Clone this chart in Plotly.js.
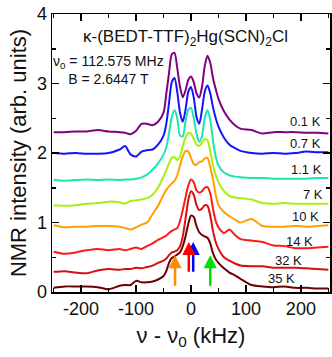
<!DOCTYPE html>
<html>
<head>
<meta charset="utf-8">
<script src="https://cdn.plot.ly/plotly-3.0.1.min.js"></script>
<style>
  html, body { margin: 0; padding: 0; background: #fff; }
  #plot { width: 332px; height: 357px; }
</style>
</head>
<body>
<div id="plot"></div>
<script>
// frequency offset (kHz), shared by all spectra
const freq = [-250, -230, -210, -190, -170, -150, -130, -120, -110, -100, -90, -80, -70, -60, -50,
    -45, -40, -35, -30, -25, -20, -15, -10, -5, 0, 5, 10, 15, 20, 25, 30, 35, 40, 45, 50,
    60, 70, 80, 90, 110, 130, 150, 170, 190, 210, 230, 250];

// spectra, already offset vertically as in the figure
const spec01K = [2.30, 2.30, 2.31, 2.31, 2.33, 2.31, 2.30, 2.29, 2.27, 2.32, 2.42, 2.42, 2.40, 2.45, 2.58,
    2.85, 3.15, 3.42, 3.44, 3.22, 2.95, 2.80, 2.90, 3.05, 3.10, 3.02, 2.86, 2.80, 2.95, 3.25, 3.40, 3.30, 3.08, 2.92, 2.78,
    2.60, 2.48, 2.40, 2.35, 2.33, 2.28, 2.30, 2.30, 2.30, 2.29, 2.29, 2.28];
const spec07K = [2.00, 1.99, 2.00, 1.99, 1.99, 2.00, 2.05, 2.10, 1.98, 1.95, 2.02, 2.04, 2.05, 2.12, 2.25,
    2.42, 2.72, 3.02, 3.08, 2.88, 2.58, 2.45, 2.62, 2.88, 2.95, 2.80, 2.52, 2.42, 2.62, 2.88, 2.97, 2.86, 2.66, 2.50, 2.38,
    2.22, 2.12, 2.07, 2.03, 2.00, 1.99, 2.00, 1.99, 2.00, 2.02, 2.01, 2.01];
const spec11K = [1.61, 1.60, 1.61, 1.62, 1.61, 1.62, 1.61, 1.62, 1.62, 1.63, 1.65, 1.69, 1.76, 1.85, 1.98,
    2.08, 2.28, 2.52, 2.62, 2.50, 2.25, 2.24, 2.45, 2.62, 2.65, 2.50, 2.28, 2.16, 2.24, 2.50, 2.62, 2.48, 2.18, 1.95, 1.82,
    1.72, 1.68, 1.66, 1.65, 1.64, 1.64, 1.63, 1.63, 1.63, 1.63, 1.64, 1.64];
const spec7K = [1.25, 1.24, 1.25, 1.27, 1.28, 1.30, 1.29, 1.27, 1.31, 1.32, 1.33, 1.35, 1.40, 1.50, 1.66,
    1.75, 1.85, 1.93, 1.94, 1.90, 1.95, 2.10, 2.22, 2.29, 2.28, 2.20, 2.12, 2.10, 2.15, 2.20, 2.18, 2.02, 1.82, 1.68, 1.58,
    1.45, 1.38, 1.36, 1.35, 1.33, 1.28, 1.27, 1.28, 1.27, 1.27, 1.27, 1.27];
const spec10K = [0.96, 0.93, 0.94, 0.94, 0.95, 0.95, 0.94, 0.92, 0.90, 0.93, 0.97, 1.00, 1.12, 1.24, 1.40,
    1.47, 1.52, 1.56, 1.60, 1.68, 1.82, 1.95, 2.03, 2.02, 1.93, 1.84, 1.83, 1.87, 1.88, 1.92, 1.93, 1.80, 1.62, 1.40, 1.25,
    1.15, 1.09, 1.04, 1.00, 1.05, 0.95, 0.94, 0.94, 0.95, 0.94, 0.95, 0.96];
const spec14K = [0.58, 0.55, 0.57, 0.60, 0.62, 0.60, 0.62, 0.60, 0.62, 0.64, 0.62, 0.66, 0.70, 0.75, 0.79,
    0.81, 0.85, 0.88, 0.90, 0.92, 1.02, 1.18, 1.36, 1.53, 1.62, 1.58, 1.46, 1.43, 1.45, 1.50, 1.51, 1.42, 1.20, 1.02, 0.93,
    0.85, 0.90, 0.82, 0.76, 0.74, 0.72, 0.67, 0.66, 0.63, 0.63, 0.64, 0.65];
const spec32K = [0.29, 0.30, 0.28, 0.27, 0.31, 0.33, 0.32, 0.33, 0.33, 0.35, 0.34, 0.36, 0.38, 0.42, 0.45,
    0.48, 0.53, 0.57, 0.58, 0.60, 0.66, 0.80, 1.05, 1.32, 1.45, 1.40, 1.25, 1.18, 1.20, 1.25, 1.24, 1.10, 0.88, 0.72, 0.62,
    0.50, 0.45, 0.41, 0.38, 0.37, 0.37, 0.35, 0.35, 0.35, 0.34, 0.33, 0.32];
const spec35K = [0.06, 0.08, 0.08, 0.08, 0.07, 0.04, 0.09, 0.10, 0.10, 0.16, 0.14, 0.14, 0.15, 0.18, 0.23,
    0.30, 0.42, 0.49, 0.51, 0.54, 0.57, 0.66, 0.80, 0.98, 1.10, 1.08, 0.95, 0.86, 0.82, 0.80, 0.78, 0.70, 0.56, 0.47, 0.42,
    0.34, 0.28, 0.24, 0.19, 0.10, 0.08, 0.07, 0.08, 0.06, 0.06, 0.05, 0.05];

const tempLabels = ['0.1 K', '0.7 K', '1.1 K', '7 K', '10 K', '14 K', '32 K', '35 K'];
const labelX = [209, 209, 211, 222, 209, 198, 177, 164];
const labelY = [2.45, 2.13, 1.76, 1.41, 1.08, 0.72, 0.46, 0.20];

// tick labels (plain hyphen like the original)
const xTickVals = [-200, -100, 0, 100, 200];
const xTickText = ['-200', '-100', '0', '100', '200'];
const yTickVals = [0, 1, 2, 3, 4];
const yTickText = ['0', '1', '2', '3', '4'];

// peak markers (arrows)
const arrowX = [-29, 4, -4, 35];
const arrowTip = [0.53, 0.72, 0.72, 0.53];
const arrowTail = [0.07, 0.27, 0.27, 0.07];
const arrowColors = ['#ff8c00', '#0000ff', '#ff0000', '#00e000'];

const spectra = [spec01K, spec07K, spec11K, spec7K, spec10K, spec14K, spec32K, spec35K];
const lineColors = ['#800080', '#1414ff', '#1de6b0', '#aaee11', '#ffa000', '#ff1a1a', '#d41010', '#6e0000'];

const FONT = 'Liberation Sans, Arial, sans-serif';

const traces = spectra.map((ys, i) => ({
    x: freq,
    y: ys,
    type: 'scatter',
    mode: 'lines',
    name: tempLabels[i],
    line: { color: lineColors[i], width: 2, shape: 'spline', smoothing: 0.7 },
    hoverinfo: 'skip'
}));

const annotations = [];
tempLabels.forEach((t, i) => {
    annotations.push({
        x: labelX[i], y: labelY[i], xref: 'x', yref: 'y',
        text: t, showarrow: false,
        font: { family: FONT, size: 13, color: '#111' }
    });
});
arrowX.forEach((ax, i) => {
    annotations.push({
        x: ax, y: arrowTip[i], ax: ax, ay: arrowTail[i],
        xref: 'x', yref: 'y', axref: 'x', ayref: 'y',
        text: '', showarrow: true,
        arrowhead: 2, arrowsize: 1.05, arrowwidth: 2.5,
        arrowcolor: arrowColors[i], standoff: 0, startstandoff: 0
    });
});
annotations.push({
    x: -10, y: 3.65, xref: 'x', yref: 'y',
    text: '\u03ba-(BEDT-TTF)<sub>2</sub>Hg(SCN)<sub>2</sub>Cl',
    showarrow: false,
    font: { family: FONT, size: 17, color: '#111' }
});
annotations.push({
    x: -150, y: 3.19, xref: 'x', yref: 'y',
    text: '\u03bd<sub>0</sub> = 112.575 MHz<br>B = 2.6447 T',
    showarrow: false, align: 'center',
    font: { family: FONT, size: 14, color: '#111' }
});

const axisCommon = {
    showline: true, linecolor: '#000', linewidth: 1.5, mirror: 'allticks',
    ticks: 'inside', ticklen: 7, tickwidth: 1.5, tickcolor: '#000',
    showgrid: false, zeroline: false,
    tickfont: { family: FONT, size: 18, color: '#111' }
};

const layout = {
    width: 332, height: 357,
    margin: { l: 52, r: 2, t: 14, b: 65 },
    paper_bgcolor: '#fff', plot_bgcolor: '#fff',
    showlegend: false,
    xaxis: Object.assign({}, axisCommon, {
        range: [-253, 253], tickmode: 'array', tickvals: xTickVals, ticktext: xTickText,
        minor: { tick0: 0, dtick: 50, ticks: 'inside', ticklen: 4, tickwidth: 1.5, tickcolor: '#000' },
        title: { text: '\u03bd - \u03bd<sub>0</sub> (kHz)', font: { family: FONT, size: 22, color: '#111' }, standoff: 9 }
    }),
    yaxis: Object.assign({}, axisCommon, {
        range: [0, 4], tickmode: 'array', tickvals: yTickVals, ticktext: yTickText,
        minor: { tick0: 0, dtick: 0.5, ticks: 'inside', ticklen: 4, tickwidth: 1.5, tickcolor: '#000' },
        title: { text: 'NMR intensity (arb. units)', font: { family: FONT, size: 22, color: '#111' }, standoff: 4 }
    }),
    annotations: annotations
};

Plotly.newPlot('plot', traces, layout, { staticPlot: true, displayModeBar: false });
</script>
</body>
</html>
